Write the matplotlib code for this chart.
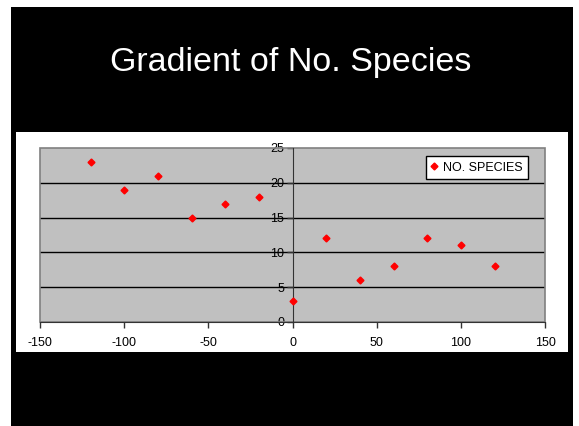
import matplotlib.pyplot as plt
from matplotlib.patches import Rectangle

# data
distance = [-120, -100, -80, -60, -40, -20, 0, 20, 40, 60, 80, 100, 120]
no_species = [23, 19, 21, 15, 17, 18, 3, 12, 6, 8, 12, 11, 8]
x_ticks = [-150, -100, -50, 0, 50, 100, 150]
y_ticks = [0, 5, 10, 15, 20, 25]

W, H = 579, 426
plt.rcParams['font.family'] = ['Liberation Sans', 'DejaVu Sans']
plt.rcParams['axes.unicode_minus'] = False

fig = plt.figure(figsize=(W / 100, H / 100), dpi=100, facecolor='white')

# black slide background and white chart panel (pixel boxes -> figure fractions)
def box(x0, y0, x1, y1):
    return (x0 / W, 1 - y1 / H, (x1 - x0) / W, (y1 - y0) / H)

bx, by, bw, bh = box(11, 7, 573, 426)
fig.patches.append(Rectangle((bx, by), bw, bh, transform=fig.transFigure,
                             facecolor='black', edgecolor='none', zorder=-2))
wx, wy, ww, wh = box(16, 132, 568, 352)
fig.patches.append(Rectangle((wx, wy), ww, wh, transform=fig.transFigure,
                             facecolor='white', edgecolor='none', zorder=-1))

fig.text(291 / W, 1 - 62 / H, 'Gradient of No. Species', color='white',
         fontsize=24.5, ha='center', va='center')

ax = fig.add_axes(box(40, 148, 545, 322))
ax.set_zorder(2)
ax.set_facecolor('#c0c0c0')
ax.set_xlim(-150, 150)
ax.set_ylim(0, 25)

for y in y_ticks[1:-1]:
    ax.axhline(y, color='black', linewidth=1, zorder=1)

ax.add_patch(Rectangle((0, 0), 1, 1, transform=ax.transAxes, fill=False,
                       edgecolor='#808080', linewidth=1.2, zorder=2, clip_on=False))

for s in ['top', 'right']:
    ax.spines[s].set_visible(False)
ax.spines['left'].set_position(('data', 0))
ax.spines['left'].set_color('#333333')
ax.spines['bottom'].set_color('#333333')
ax.spines['left'].set_zorder(3)

ax.set_xticks(x_ticks)
ax.set_yticks(y_ticks)
ax.tick_params(direction='out', length=4, width=1, color='#333333',
               labelsize=9, labelcolor='black')
ax.tick_params(axis='x', pad=7)
ax.tick_params(axis='y', pad=2)

ax.plot(distance, no_species, linestyle='none', marker='D', markersize=3.5,
        color='red', label='NO. SPECIES', zorder=4)

leg = ax.legend(loc='upper right', fontsize=9, frameon=True, fancybox=False,
                edgecolor='black', framealpha=1, handlelength=0.5,
                handletextpad=0.4, borderpad=0.45, borderaxespad=0,
                bbox_to_anchor=(0.966, 0.954))
leg.get_frame().set_linewidth(1)

fig.savefig('out.png', dpi=100)
